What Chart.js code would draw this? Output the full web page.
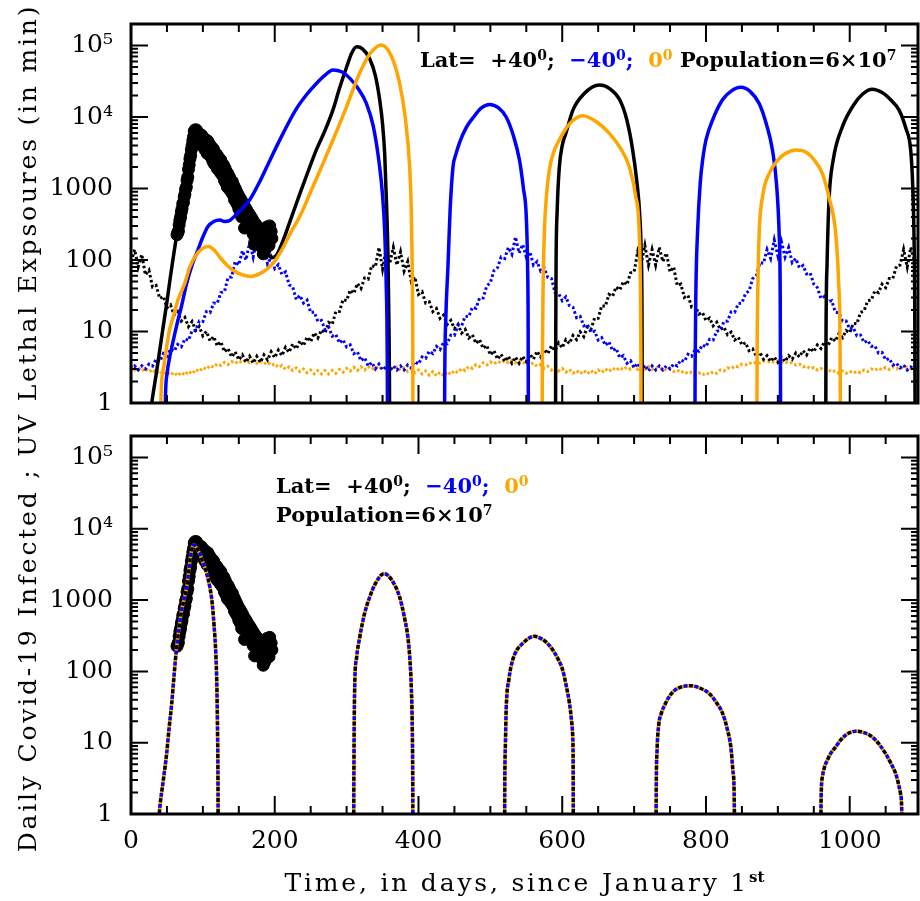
<!DOCTYPE html>
<html>
<head>
<meta charset="utf-8">
<title>Daily Covid-19 infected and UV lethal exposures</title>
<script src="https://cdn.jsdelivr.net/npm/chart.js@4.4.1/dist/chart.umd.min.js"></script>
<style>
  html, body { margin: 0; padding: 0; background: #fff; }
  #wrap { position: relative; width: 920px; height: 901px; overflow: hidden; font-family: 'DejaVu Serif', serif; color: #000; }
  canvas { position: absolute; left: 0; }
  #topChart { top: 0; }
  #bottomChart { top: 420px; }
  .note { position: absolute; font-family: 'DejaVu Serif', serif; font-weight: bold; font-size: 21px; white-space: pre; }
  .note sup { font-size: 14px; vertical-align: 0; position: relative; top: -7px; line-height: 0; }
  .blue { color: #0000ff; }
  .orange { color: #ffa500; }
  #ytitle { position: absolute; left: -422px; top: 413px; width: 900px; height: 30px; line-height: 30px;
            text-align: center; transform: rotate(-90deg); font-size: 25px; letter-spacing: 2.8px; white-space: nowrap; }
  #xtitle { position: absolute; left: 131px; width: 787px; top: 868px; line-height: 30px; text-align: center;
            font-size: 25px; letter-spacing: 2.8px; white-space: nowrap; }
  #xtitle sup { font-size: 15px; font-weight: bold; line-height: 0; letter-spacing: 0; }
</style>
</head>
<body>
<div id="wrap">
  <canvas id="topChart" width="920" height="420"></canvas>
  <canvas id="bottomChart" width="920" height="481"></canvas>
  <div class="note" style="left:420px; top:48px; line-height:24px;">Lat=  +40<sup>0</sup>;  <span class="blue">−40<sup>0</sup>;</span>  <span class="orange">0<sup>0</sup></span> Population=6×10<sup>7</sup></div>
  <div class="note" style="left:276px; top:471px; line-height:29px;">Lat=  +40<sup>0</sup>;  <span class="blue">−40<sup>0</sup>;</span>  <span class="orange">0<sup>0</sup></span>
Population=6×10<sup>7</sup></div>
  <div id="ytitle">Daily Covid-19 Infected ; UV Lethal Expsoures (in min)</div>
  <div id="xtitle">Time, in days, since January 1<sup>st</sup></div>
</div>
<script>
// axes
const DAY_MAX = 1095;
const UV_STEP = 5;
const xTickLabels = [0, 200, 400, 600, 800, 1000];
const yTickValues = [1, 10, 100, 1000, 10000, 100000];
const yTickText = ['1', '10', '100', '1000', '10⁴', '10⁵'];

// observed daily infected, one value per day from day 64
const obsStartDay = 64;
const observedCases = [
  225, 240, 255, 310, 360, 400, 470, 520, 610, 640,
  760, 830, 980, 1050, 1300, 1450, 1850, 2150, 2600, 2900,
  3500, 4000, 4700, 5300, 6300, 6600, 6200, 6600, 5200, 6000,
  4700, 5800, 4400, 4200, 5600, 4000, 5200, 3900, 5000, 3500,
  4800, 3600, 3100, 4600, 3300, 4200, 2900, 3900, 2700, 3700,
  2400, 3500, 2200, 3100, 2300, 3000, 1900, 2800, 2000, 2600,
  1700, 2500, 1600, 2200, 1500, 2100, 1300, 1900, 1200, 1700,
  1050, 1600, 1000, 1450, 950, 1300, 880, 1250, 820, 1100,
  700, 1000, 650, 900, 600, 820, 520, 750, 480, 700,
  400, 640, 420, 580, 280, 540, 380, 500, 330, 460,
  300, 430, 280, 400, 260, 370, 230, 340, 165, 320,
  210, 300, 190, 280, 170, 260, 160, 250, 150, 240,
  122, 220, 135, 250, 170, 290, 190, 270, 160, 300,
  200, 250, 200
];

// UV lethal exposure (minutes), every 5 days from day 0; one row block per year
const uvNorth = [
  95, 140, 80, 120, 62, 72, 42, 44, 29, 31, 21.5, 23.5, 17, 19, 14, 15.7, 11.7, 13.8, 10.4, 11.8,
  8.7, 10, 7.4, 8.5, 6.3, 7.2, 5.2, 5.8, 4.4, 5.2, 4.0, 4.7, 3.7, 4.5, 3.6, 4.5, 3.7, 4.7, 4.0, 5.2,
  4.3, 5.5, 4.6, 6.0, 5.1, 6.7, 5.7, 7.4, 6.3, 8.4, 7.2, 9.6, 8.1, 10.5, 9.5, 13.4, 12.6, 19, 19, 28,
  27, 38, 34, 47, 40, 56, 54, 84, 80, 150, 75, 140, 90,
  150, 85, 130, 70, 95, 50, 58, 33, 36, 25, 26, 19, 21, 15.3, 17, 12.6, 14.3, 11, 12.6, 9.5,
  10.7, 8.1, 9.0, 6.8, 7.7, 5.8, 6.4, 4.7, 5.4, 4.1, 4.8, 3.8, 4.5, 3.6, 4.4, 3.6, 4.5, 3.8, 4.8, 4.1,
  5.3, 4.4, 5.6, 4.9, 6.3, 5.4, 6.9, 5.9, 7.7, 6.8, 8.8, 7.7, 9.9, 8.5, 11.6, 10.8, 15.4, 15.3, 23, 22.5,
  33, 31, 42, 38, 50, 45, 66, 68, 130, 90, 160, 85, 140,
  85, 150, 95, 125, 68, 80, 44, 46, 30, 32, 22, 23, 17.5, 18.5, 14.2, 15.4, 12, 13.5, 10.6, 11.5,
  9, 9.8, 7.6, 8.3, 6.5, 7, 5.4, 5.7, 4.5, 5.1, 4.1, 4.6, 3.8, 4.4, 3.7, 4.4, 3.8, 4.6, 4.1, 5.0,
  4.4, 5.4, 4.7, 5.9, 5.2, 6.5, 5.8, 7.2, 6.4, 8.2, 7.3, 9.4, 8.2, 10.3, 9.6, 13, 12.8, 18.5, 19.5, 27,
  27.5, 37, 35, 46, 41, 55, 55, 82, 85, 140, 80, 150, 95,
  110
];
const uvSouth = [
  2.9, 3.3, 2.9, 3.3, 3.0, 3.5, 3.3, 4.1, 3.8, 4.9, 4.5, 5.7, 5.3, 6.6, 6.1, 7.9, 7.5, 10.3, 10.3, 14,
  13.8, 19, 18.4, 25, 24.8, 35, 36, 57, 58, 95, 85, 135, 100, 175, 110, 200, 105, 160, 88, 110,
  76, 86, 63, 68, 45, 42, 28, 32, 25, 27.5, 18.4, 18.7, 13.8, 14.3, 10.6, 11.5, 8.6, 9.1, 6.9, 7.7,
  6.1, 6.5, 4.9, 5.2, 3.9, 4.3, 3.3, 3.7, 3.0, 3.5, 2.9, 3.2, 2.8,
  3.3, 2.9, 3.3, 2.9, 3.4, 3.1, 3.8, 3.5, 4.4, 4.2, 5.3, 4.9, 6.2, 5.6, 7.1, 6.8, 8.9, 8.8, 12.2, 12,
  16.3, 16.1, 21.8, 21.2, 29.4, 29.5, 43.6, 48, 71, 78, 110, 105, 150, 120, 210, 125, 165, 110, 130, 85,
  95, 70, 77, 57, 55, 35, 34, 27, 30.5, 23, 21.8, 15.6, 16.3, 12, 12.5, 9.7, 10.1, 7.6, 8.2, 6.4,
  7.2, 5.4, 5.8, 4.3, 4.6, 3.6, 3.9, 3.1, 3.6, 2.9, 3.4, 2.8, 3.3,
  2.9, 3.3, 2.9, 3.3, 3.0, 3.5, 3.3, 4.0, 3.8, 4.8, 4.5, 5.6, 5.3, 6.5, 6.1, 7.8, 7.6, 10.1, 10.4, 13.8,
  14, 18.8, 18.6, 24.6, 25, 34, 37, 55, 60, 92, 90, 140, 105, 190, 115, 180, 110, 150, 92, 105,
  78, 84, 64, 66, 46, 41, 29, 31, 26, 27, 18.6, 18.3, 14, 14, 10.8, 11.3, 8.7, 8.9, 7.0, 7.5,
  6.2, 6.3, 5.0, 5.1, 4.0, 4.2, 3.4, 3.6, 3.1, 3.4, 2.9, 3.2, 2.9,
  3.2
];
const uvEquator = [
  3.25, 2.9, 3.15, 2.8, 3.05, 2.7, 2.95, 2.6, 2.85, 2.5, 2.75, 2.45, 2.7, 2.4, 2.7, 2.45, 2.8, 2.55, 2.95, 2.75,
  3.15, 2.95, 3.35, 3.15, 3.55, 3.35, 3.7, 3.45, 3.8, 3.55, 3.9, 3.65, 3.95, 3.65, 3.95, 3.6, 3.85, 3.5, 3.75, 3.35,
  3.55, 3.15, 3.35, 2.95, 3.2, 2.85, 3.1, 2.75, 3.0, 2.65, 2.9, 2.55, 2.85, 2.55, 2.85, 2.55, 2.85, 2.6, 2.95, 2.7,
  3.05, 2.8, 3.15, 2.85, 3.2, 2.9, 3.25, 2.95, 3.25, 2.95, 3.25, 2.95, 3.25,
  2.95, 3.2, 2.85, 3.1, 2.75, 3.0, 2.65, 2.9, 2.55, 2.8, 2.45, 2.75, 2.4, 2.7, 2.4, 2.75, 2.5, 2.85, 2.65, 3.05,
  2.85, 3.25, 3.05, 3.45, 3.25, 3.65, 3.4, 3.75, 3.5, 3.85, 3.6, 3.95, 3.65, 3.95, 3.65, 3.9, 3.55, 3.8, 3.45, 3.65,
  3.25, 3.45, 3.05, 3.25, 2.9, 3.15, 2.8, 3.05, 2.7, 2.95, 2.6, 2.85, 2.55, 2.85, 2.55, 2.85, 2.55, 2.9, 2.65, 3.0,
  2.75, 3.1, 2.85, 3.15, 2.9, 3.2, 2.95, 3.25, 2.95, 3.25, 2.95, 3.25, 2.95,
  3.2, 2.95, 3.1, 2.85, 3.0, 2.75, 2.9, 2.65, 2.8, 2.55, 2.7, 2.5, 2.65, 2.45, 2.65, 2.5, 2.75, 2.6, 2.9, 2.8,
  3.1, 3.0, 3.3, 3.2, 3.5, 3.4, 3.65, 3.5, 3.75, 3.6, 3.85, 3.7, 3.9, 3.7, 3.9, 3.65, 3.8, 3.55, 3.7, 3.4,
  3.5, 3.2, 3.3, 3.0, 3.15, 2.9, 3.05, 2.8, 2.95, 2.7, 2.85, 2.6, 2.8, 2.6, 2.8, 2.6, 2.8, 2.65, 2.9, 2.75,
  3.0, 2.85, 3.1, 2.9, 3.15, 2.95, 3.2, 3.0, 3.2, 3.0, 3.2, 3.0, 3.2,
  3.1
];

// model daily infected with UV, [day, value]; null breaks between waves
const northModel = [
  [26, 0.6], [30, 1.2], [35, 2.5], [40, 5.5], [45, 12], [50, 26], [55, 60], [60, 130], [64, 240],
  [70, 560], [75, 1100], [80, 2100], [85, 3800], [90, 5000], [95, 5100], [100, 4700], [110, 3600],
  [120, 2600], [130, 1800], [140, 1150], [150, 720], [160, 450], [170, 290], [180, 180], [190, 125],
  [196, 108], [202, 115], [210, 170], [220, 320], [235, 850], [247, 1800], [258, 3500], [270, 6500],
  [281, 12600], [290, 25000], [300, 50000], [307, 78000], [314, 96000], [322, 90000], [332, 66000],
  [340, 38000], [346, 17400], [350, 8000], [353, 3000], [355.3, 700], [357.5, 120], [358.8, 15],
  [359.6, 2], [360, 0.1], [360.5, null],
  [590.5, 0.1], [591, 10], [591.4, 80], [593, 500], [596, 2000], [600, 4000], [605, 5900], [615, 12600],
  [630, 21000], [652, 28000], [666, 25000], [680, 17400], [690, 9000], [698, 3460], [704, 1200],
  [708, 400], [710, 110], [711, 15], [711.5, 0.1], [712, null],
  [966.5, 0.1], [967, 8], [968.5, 90], [971.2, 690], [977, 2500], [990, 7400], [1005, 14500],
  [1018, 21000], [1031.4, 24500], [1045, 22000], [1058, 17000], [1068.5, 12600], [1078, 7000],
  [1084.8, 3460], [1087.5, 1200], [1089.5, 200], [1090.5, 20], [1091.2, 0.1]
];
const southModel = [
  [47, 0.1], [47.8, 1], [50, 2.5], [55, 5], [60, 8.5], [65, 14], [70, 22], [77.4, 47], [85, 85],
  [93, 138], [100, 210], [107, 295], [115, 345], [123.7, 363], [130, 345], [137, 355], [145, 420],
  [155, 530], [165, 690], [180, 1300], [195, 2700], [211.6, 5900], [230, 13000], [245, 21000],
  [258, 29500], [270, 38500], [281, 45600], [293, 43000], [304.3, 35000], [316, 25000], [327.5, 15500],
  [337, 7500], [346, 2000], [350, 800], [353, 250], [355, 50], [356.5, 5], [357.2, 0.1], [357.5, null],
  [436, 0.1], [436.5, 2], [438, 15], [441, 81], [444, 500], [448, 2000], [452, 3000], [457, 4360],
  [466, 7000], [476, 9800], [488, 13500], [499, 15000], [511, 13500], [522, 10000], [532, 5500],
  [540.5, 2500], [546, 1000], [550, 400], [551.8, 80], [552.6, 10], [553, 0.1], [553.5, null],
  [784.4, 0.1], [784.9, 3], [786, 40], [788.2, 235], [792, 1200], [796, 2800], [800, 4800], [810, 9500],
  [823, 17400], [835, 23000], [848.5, 26000], [862, 22500], [874, 15500], [884, 8000], [892.5, 3460],
  [898, 1200], [901.8, 235], [903.3, 30], [904, 0.1]
];
const equatorModel = [
  [40.8, 0.1], [41.5, 1], [45, 3], [50, 6.5], [54, 11], [58.8, 16], [65, 27], [70, 36], [75, 48],
  [82, 81], [90, 115], [98, 142], [107.4, 154], [115, 140], [125, 105], [135, 82], [142, 72], [155, 62],
  [167.7, 59], [180, 65], [190, 76], [197.7, 90], [210, 140], [222, 240], [234.8, 405], [250, 900],
  [265, 2000], [281, 4770], [300, 14000], [318, 41000], [333, 78000], [348.3, 102000], [362, 72000],
  [373.8, 29500], [382, 9000], [387.7, 2000], [390, 500], [391.3, 80], [392, 10], [392.5, 0.1], [393, null],
  [571.8, 0.1], [572.3, 3], [573.5, 50], [575.5, 300], [577.6, 690], [582, 1800], [588, 3200], [596, 4800],
  [610, 8000], [628.5, 10400], [648, 8500], [665.6, 5900], [680, 3800], [693.4, 2000], [702, 800],
  [707.2, 235], [708.8, 40], [709.4, 5], [709.7, 0.1], [710, null],
  [870.6, 0.1], [871.2, 5], [872.5, 60], [874, 235], [879, 800], [887.9, 1620], [900, 2500], [912, 3150],
  [925, 3460], [940, 3200], [952, 2400], [962, 1620], [972, 700], [980.5, 235], [984.5, 50], [986.5, 8],
  [987.5, 0.1]
];

// model without UV: identical for the three latitudes
const commonModel = [
  [38, 0.6], [39.3, 1], [45, 3], [49.6, 7], [53, 16], [56.6, 35], [60, 90], [63.5, 220], [67, 420],
  [70, 680], [73.5, 1000], [77.4, 1500], [80, 2400], [83, 4200], [86, 5700], [88, 5900], [91, 5400],
  [95.9, 4400], [100, 3400], [105, 2400], [109.8, 1500], [113, 900], [115.5, 450], [118, 178],
  [119.5, 60], [120.5, 12], [121.1, 2], [121.4, 0.1], [121.8, null],
  [309.6, 0.1], [310, 2], [310.5, 15], [311.2, 60], [314, 160], [318.2, 300], [325, 650], [332.1, 1100],
  [340, 1700], [352, 2350], [363, 1900], [373.8, 1100], [380, 600], [385.3, 300], [388, 150], [390, 60],
  [391.4, 15], [392, 3], [392.4, 0.1], [393, null],
  [519.6, 0.1], [520, 2], [521, 10], [522, 29], [526, 80], [531, 144], [537, 200], [545, 247], [553, 290],
  [561.3, 310], [570, 290], [578, 255], [586.8, 200], [594, 150], [600.7, 104], [606, 60], [610, 36],
  [613, 20], [614.6, 12], [615.2, 5], [615.6, 0.1], [616, null],
  [730.3, 0.1], [730.8, 2], [732, 8], [734, 17], [738, 26], [743.3, 35], [750, 46], [757.2, 55], [767, 61],
  [779, 63], [792, 58], [804.5, 49], [815, 36], [823, 26], [830, 15], [834.6, 8.7], [837.5, 4], [839.2, 2],
  [840.4, 0.1], [841, null],
  [959.6, 0.1], [960, 1.2], [961.9, 3.3], [965, 4.6], [968.9, 5.7], [974, 7.2], [980.5, 8.7], [987, 10.8],
  [994.4, 12.8], [1001, 14], [1008.3, 14.5], [1020, 13.8], [1031.4, 12], [1041, 9.5], [1050, 7], [1057, 5.2],
  [1063.9, 3.7], [1068, 2.6], [1070.8, 1.9], [1072.5, 1], [1073.2, 0.1]
];

const BLACK = '#000000';
const BLUE = '#0000ff';
const ORANGE = '#ffa500';
const FONT = { family: 'DejaVu Serif', size: 25 };

function pairs(list) {
  return list.map(p => ({ x: p[0], y: p[1] }));
}

function uvPoints(vals) {
  return vals.map((v, i) => ({ x: i * UV_STEP, y: v }));
}

function observedPoints() {
  return observedCases.map((v, i) => ({ x: obsStartDay + i, y: v }));
}

// box around the plot with inward ticks on all four sides
const frameTicks = {
  id: 'frameTicks',
  afterDatasetsDraw(chart) {
    const { ctx, chartArea: a } = chart;
    const xs = chart.scales.x, ys = chart.scales.y;
    ctx.save();
    ctx.strokeStyle = BLACK;
    ctx.lineWidth = 2;
    ctx.beginPath();
    for (let d = 50; d < DAY_MAX; d += 50) {
      const px = xs.getPixelForValue(d);
      const len = d % 200 === 0 ? 18 : 8;
      ctx.moveTo(px, a.bottom); ctx.lineTo(px, a.bottom - len);
      ctx.moveTo(px, a.top); ctx.lineTo(px, a.top + len);
    }
    for (let e = 0; e <= 5; e++) {
      for (let m = 1; m <= 9; m++) {
        const v = m * Math.pow(10, e);
        if (v <= 1 || v > ys.max) continue;
        const py = ys.getPixelForValue(v);
        const len = m === 1 ? 17 : 7;
        ctx.moveTo(a.left, py); ctx.lineTo(a.left + len, py);
        ctx.moveTo(a.right, py); ctx.lineTo(a.right - len, py);
      }
    }
    ctx.stroke();
    ctx.lineWidth = 3;
    ctx.strokeRect(a.left, a.top, a.right - a.left, a.bottom - a.top);
    ctx.restore();
  }
};

function panelOptions(showXLabels, xHeight, padTop) {
  return {
    responsive: false,
    animation: false,
    events: [],
    layout: { autoPadding: false, padding: { left: 0, right: 2, top: padTop, bottom: 0 } },
    plugins: { legend: { display: false }, tooltip: { enabled: false } },
    elements: { line: { tension: 0 } },
    scales: {
      x: {
        type: 'linear', min: 0, max: DAY_MAX,
        grid: { display: false, drawTicks: false },
        border: { display: false },
        ticks: {
          display: showXLabels, stepSize: 50, autoSkip: false, maxRotation: 0,
          padding: 12, color: BLACK, font: FONT,
          callback: v => xTickLabels.includes(v) ? String(v) : ''
        },
        afterFit: s => { s.height = xHeight; s.paddingLeft = 0; s.paddingRight = 0; }
      },
      y: {
        type: 'logarithmic', min: 1, max: 2e5,
        grid: { display: false, drawTicks: false },
        border: { display: false },
        ticks: {
          autoSkip: false, padding: 18, color: BLACK, font: FONT,
          callback: v => {
            const i = yTickValues.indexOf(v);
            return i < 0 ? '' : yTickText[i];
          }
        },
        afterFit: s => { s.width = 131; s.paddingTop = 0; s.paddingBottom = 0; }
      }
    }
  };
}

function uvSet(vals, color, order) {
  return {
    data: uvPoints(vals), borderColor: color, borderWidth: 3, borderDash: [2.5, 2.5],
    pointRadius: 0, fill: false, order: order
  };
}

function modelSet(list, color, order, dash, offset) {
  return {
    data: pairs(list), borderColor: color, borderWidth: 3.5, pointRadius: 0, fill: false,
    cubicInterpolationMode: 'monotone',
    spanGaps: false, borderDash: dash || [], borderDashOffset: offset || 0, order: order
  };
}

function observedSet(order) {
  return {
    data: observedPoints(), showLine: false, pointRadius: 6, pointStyle: 'circle',
    pointBackgroundColor: BLACK, pointBorderColor: BLACK, pointBorderWidth: 1, order: order
  };
}

new Chart(document.getElementById('topChart'), {
  type: 'line',
  data: {
    datasets: [
      modelSet(equatorModel, ORANGE, 0),
      modelSet(southModel, BLUE, 1),
      modelSet(northModel, BLACK, 2),
      observedSet(3),
      uvSet(uvSouth, BLUE, 4),
      uvSet(uvNorth, BLACK, 5),
      uvSet(uvEquator, ORANGE, 6)
    ]
  },
  options: panelOptions(false, 17, 24),
  plugins: [frameTicks]
});

new Chart(document.getElementById('bottomChart'), {
  type: 'line',
  data: {
    datasets: [
      modelSet(commonModel, BLACK, 0, [4, 7], 5.5),
      modelSet(commonModel, BLUE, 1, [4, 7], 0),
      modelSet(commonModel, ORANGE, 2),
      observedSet(3)
    ]
  },
  options: panelOptions(true, 87, 16),
  plugins: [frameTicks]
});
</script>
</body>
</html>
